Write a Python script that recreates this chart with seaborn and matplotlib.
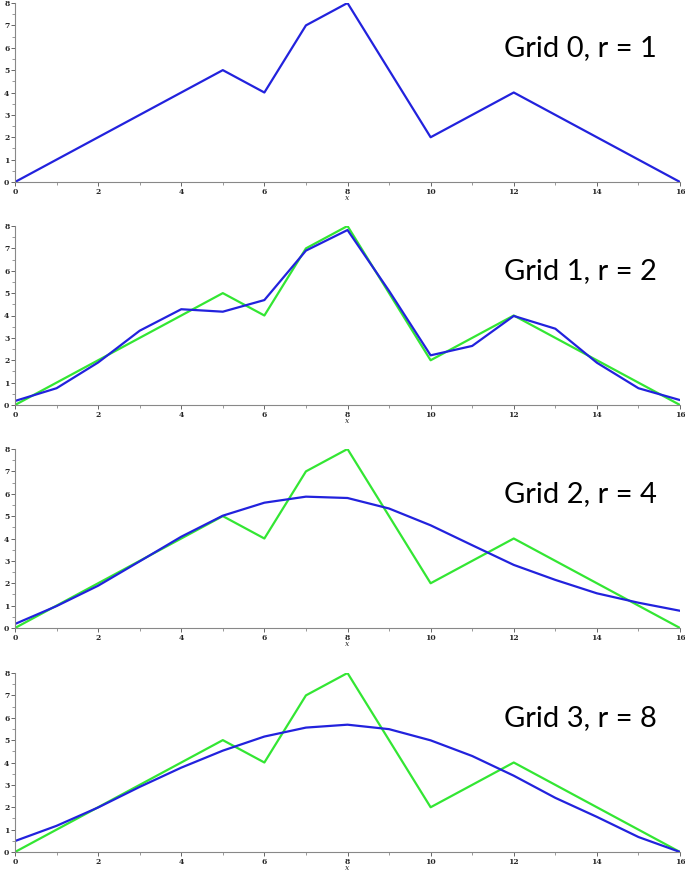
import numpy as np
import pandas as pd
import matplotlib.pyplot as plt
import seaborn as sns

# grid point positions and the original (green) signal
x = list(range(17))
original = [0, 1, 2, 3, 4, 5, 4, 7, 8, 5, 2, 3, 4, 3, 2, 1, 0]

# smoothed signals (blue) for each grid level
grid1 = [0.18, 0.75, 1.9, 3.32, 4.28, 4.17, 4.69, 6.9, 7.82, 5.1,
         2.22, 2.64, 3.98, 3.41, 1.89, 0.75, 0.22]
grid2 = [0.18, 0.98, 1.89, 2.98, 4.08, 5.02, 5.6, 5.87, 5.81, 5.34,
         4.59, 3.7, 2.82, 2.15, 1.55, 1.13, 0.77]
grid3 = [0.49, 1.17, 1.99, 2.91, 3.77, 4.53, 5.16, 5.56, 5.69, 5.49,
         4.99, 4.29, 3.41, 2.42, 1.57, 0.67, 0.0]

labels = ["Grid 0, r = 1", "Grid 1, r = 2", "Grid 2, r = 4", "Grid 3, r = 8"]
blue_series = [original, grid1, grid2, grid3]
show_green = [False, True, True, True]

BLUE = "#2222dd"
GREEN = "#33e633"

sns.set_style("white")

W, H = 685, 873
fig = plt.figure(figsize=(W / 100, H / 100), dpi=100)

# (top pixel, bottom pixel) of each panel's plotting area
panel_px = [(3, 182), (226, 405), (449, 628), (673, 852)]
left_px, right_px = 15, 680

for i, (top, bot) in enumerate(panel_px):
    ax = fig.add_axes([left_px / W, (H - bot) / H,
                       (right_px - left_px) / W, (bot - top) / H])
    df = pd.DataFrame({"x": x, "orig": original, "smooth": blue_series[i]})
    if show_green[i]:
        sns.lineplot(data=df, x="x", y="orig", ax=ax, color=GREEN,
                     linewidth=1.6)
    sns.lineplot(data=df, x="x", y="smooth", ax=ax, color=BLUE,
                 linewidth=1.6)

    ax.set_xlim(0, 16)
    ax.set_ylim(0, 8)
    ax.set_xticks(range(0, 17, 2))
    ax.set_xticks(range(1, 17, 2), minor=True)
    ax.set_yticks(range(0, 9))
    ax.set_yticks(np.arange(0.5, 8, 1), minor=True)

    for s in ["top", "right"]:
        ax.spines[s].set_visible(False)
    for s in ["left", "bottom"]:
        ax.spines[s].set_color("#888888")
        ax.spines[s].set_linewidth(0.8)

    ax.tick_params(axis="both", which="major", length=3, width=0.7,
                   color="#666666", direction="out", pad=1,
                   labelsize=5.5, bottom=True, left=True)
    ax.tick_params(axis="both", which="minor", length=2, width=0.6,
                   color="#888888", direction="out", bottom=True, left=True)
    for lab in ax.get_xticklabels() + ax.get_yticklabels():
        lab.set_fontfamily("DejaVu Serif")
        lab.set_fontweight("bold")

    ax.set_xlabel("x", fontsize=5.5, fontstyle="italic",
                  fontfamily="DejaVu Serif", labelpad=-1)
    ax.set_ylabel("")

    ax.text(13.6, 6.0, labels[i], fontsize=21, fontfamily="Lato",
            ha="center", va="center", color="black")

fig.savefig("out.png", dpi=100)
